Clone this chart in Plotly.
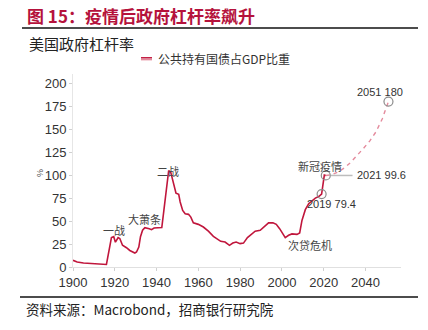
import plotly.graph_objects as go

# ---------------- data ----------------
years_hist = [1900, 1902, 1905, 1908, 1911, 1913, 1914.5, 1916, 1918.4, 1919.5, 1920.3, 1921.6,
              1922.4, 1923.7, 1925.6, 1927.2, 1929.6, 1930.4, 1931.5, 1932.3, 1933.3, 1934.4,
              1936.5, 1937.6, 1938.8, 1940.4, 1941.7, 1942.5, 1943.5, 1944.8, 1945.8, 1946.8,
              1948, 1949.3, 1950.6, 1951.3, 1952.5, 1953.7, 1955.3, 1956.4, 1957.6, 1960,
              1962.4, 1964.8, 1967.2, 1968.8, 1970.7, 1972.8, 1974.9, 1976.5, 1978.1, 1980,
              1981.6, 1983.5, 1985.6, 1987.2, 1989.6, 1991.2, 1993.6, 1995.7, 1997.3, 1998.9,
              2000.5, 2001.6, 2003.2, 2004.8, 2007.2, 2008.5, 2009.6, 2011.2, 2012.8, 2014.4,
              2016, 2017.6, 2019, 2020.3, 2021]
debt_hist = [7.3, 5.5, 4.3, 4.0, 4.0, 3.0, 3.5, 2.7, 32, 33, 27, 32,
             31, 23.6, 21, 18, 15.2, 16.3, 21.7, 33, 40, 42.8,
             41.7, 40.6, 42.4, 42.8, 43.5, 43, 61.6, 87, 105, 103,
             90.6, 80.4, 79, 70.7, 61.6, 58, 57.3, 54.3, 48, 46.4,
             43.5, 39, 33.4, 30.8, 27.9, 27.2, 23.6, 26, 27.2, 25.4,
             26, 32, 35.5, 39, 40, 43.5, 48, 48, 46.4, 41.7,
             35.5, 32, 34.5, 36, 35.5, 37, 50.7, 62.4, 68.9, 72.5,
             75, 76.6, 79.4, 100, 99.6]

years_proj = [2021, 2024, 2027, 2030, 2033, 2036, 2039, 2042, 2045, 2048, 2051]
debt_proj = [99.6, 100.5, 103.5, 108, 114, 121, 129, 137, 147, 161, 180]

key_years = [2019, 2021, 2051]
key_values = [79.4, 99.6, 180]

events = ["一战", "大萧条", "二战", "新冠疫情", "次贷危机"]
event_x = [1919.8, 1934.4, 1945.7, 2018.3, 2013.5]
event_y = [40, 52, 104, 109.5, 23.6]

title_text = "图 15：疫情后政府杠杆率飙升"
subtitle_text = "美国政府杠杆率"
source_text = "资料来源：Macrobond，招商银行研究院"
legend_text = "公共持有国债占GDP比重"

W, H = 428, 330
ML, MR, MT, MB = 73, 27, 74, 63
PW, PH = W - ML - MR, H - MT - MB


def px(x):
    return (x - ML) / PW


def py(y):
    return (H - MB - y) / PH


RED = "#c0163c"
PINK = "#e48a9c"
CJK = "Noto Sans CJK SC"
SANS = "Liberation Sans, Arial, sans-serif"

fig = go.Figure()
fig.add_trace(go.Scatter(x=years_hist, y=debt_hist, mode="lines",
                         line=dict(color=RED, width=1.6), showlegend=False))
fig.add_trace(go.Scatter(x=years_proj, y=debt_proj, mode="lines",
                         line=dict(color=PINK, width=1.4, dash="4px,4px"), showlegend=False))
fig.add_trace(go.Scatter(x=key_years, y=key_values, mode="markers",
                         marker=dict(symbol="circle-open", size=9, color="#8c8c8c",
                                     line=dict(width=1.2, color="#8c8c8c")),
                         showlegend=False))

annotations = []
for t, x, y in zip(events, event_x, event_y):
    annotations.append(dict(x=x, y=y, xref="x", yref="y", text=t, showarrow=False,
                            font=dict(family=CJK, size=11, color="#444")))

annotations += [
    dict(x=2023.9, y=69, xref="x", yref="y", text=f"{key_years[0]} {key_values[0]}",
         showarrow=False, font=dict(family=SANS, size=11, color="#333")),
    dict(x=2034.8, y=99.6, xref="x", yref="y", text=f"{key_years[1]} {key_values[1]}",
         showarrow=False, xanchor="left", font=dict(family=SANS, size=11, color="#333")),
    dict(x=2047.1, y=190, xref="x", yref="y", text=f"{key_years[2]} {key_values[2]}",
         showarrow=False, font=dict(family=SANS, size=11, color="#333")),
    dict(x=px(25), y=py(15), xref="paper", yref="paper", text=f"<b>{title_text}</b>",
         showarrow=False, xanchor="left", yanchor="middle",
         font=dict(family=CJK, size=17, color="#b5123c")),
    dict(x=px(27), y=py(43), xref="paper", yref="paper", text=subtitle_text,
         showarrow=False, xanchor="left", yanchor="middle",
         font=dict(family=CJK, size=15, color="#222")),
    dict(x=px(24), y=py(309), xref="paper", yref="paper", text=source_text,
         showarrow=False, xanchor="left", yanchor="middle",
         font=dict(family=CJK, size=13.5, color="#222")),
    dict(x=px(156), y=py(59), xref="paper", yref="paper", text=legend_text,
         showarrow=False, xanchor="left", yanchor="middle",
         font=dict(family=CJK, size=12, color="#333")),
    dict(x=px(33), y=py(173), xref="paper", yref="paper", text="%", textangle=-90,
         showarrow=False, font=dict(family=SANS, size=9, color="#555")),
]

shapes = [
    dict(type="line", xref="paper", yref="paper", x0=px(22), x1=px(418), y0=py(28), y1=py(28),
         line=dict(color="#111", width=1.6)),
    dict(type="line", xref="paper", yref="paper", x0=px(20), x1=px(418), y0=py(297), y1=py(297),
         line=dict(color="#111", width=1.6)),
    dict(type="line", xref="paper", yref="paper", x0=px(141), x1=px(152), y0=py(57.8), y1=py(57.8),
         line=dict(color=RED, width=1.5)),
    dict(type="line", xref="paper", yref="paper", x0=px(141), x1=px(152), y0=py(59.6), y1=py(59.6),
         line=dict(color=PINK, width=1.5)),
    dict(type="line", xref="x", yref="y", x0=2023.5, x1=2033.8, y0=99.6, y1=99.6,
         line=dict(color="#bdbdbd", width=1.5)),
]

fig.update_layout(
    width=W, height=H,
    margin=dict(l=ML, r=MR, t=MT, b=MB),
    paper_bgcolor="white", plot_bgcolor="white",
    showlegend=False,
    annotations=annotations, shapes=shapes,
    xaxis=dict(range=[1900, 2057], tickvals=[1900, 1920, 1940, 1960, 1980, 2000, 2020, 2040],
               showgrid=False, zeroline=False, showline=True, linecolor="#e0e0e0", linewidth=1,
               ticks="outside", ticklen=3, tickcolor="#d0d0d0",
               tickfont=dict(family=SANS, size=13, color="#333")),
    yaxis=dict(range=[0, 210], tickvals=[0, 25, 50, 75, 100, 125, 150, 175, 200],
               showgrid=False, zeroline=False, showline=True, linecolor="#e6e6e6", linewidth=1,
               ticks="outside", ticklen=3, tickcolor="#d0d0d0",
               tickfont=dict(family=SANS, size=13, color="#333")),
)

fig.write_html("out.html")
